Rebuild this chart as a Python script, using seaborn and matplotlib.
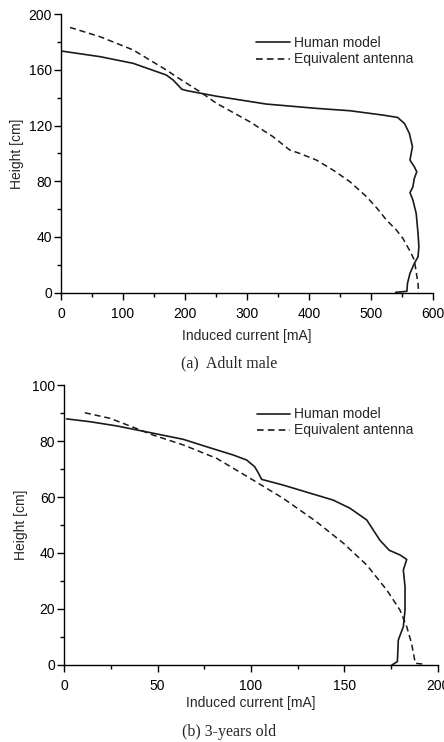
import numpy as np
import pandas as pd
import matplotlib
matplotlib.use("Agg")
import matplotlib.pyplot as plt
from matplotlib.ticker import MultipleLocator
import seaborn as sns

# ---- Data: (a) Adult male ----
adult_human_current = [1, 63, 116.5, 170, 181, 195, 203, 251, 331, 412, 466, 519, 543, 554, 562, 567,
                       565, 563, 570, 574, 570, 567.7, 563, 567.7, 573, 576, 577.4, 576, 570, 563,
                       559, 558, 540]
adult_human_height = [173.4, 169.4, 164.6, 156.2, 152.6, 146, 145, 141, 135.4, 132.3, 130.6, 127.5,
                      125.8, 121.5, 114.4, 104.8, 100, 95.2, 90.4, 86.8, 82, 76, 71.8, 66.5, 57,
                      42.6, 33, 25.8, 21, 13.9, 6.7, 1, 0.3]
adult_ant_current = [14.5, 63, 116.5, 170, 186, 224, 251, 304.5, 342, 369, 385, 412, 439, 466, 493,
                     510, 525, 541, 551.6, 565, 570, 573, 576, 577]
adult_ant_height = [190.4, 183.7, 174.2, 159.8, 155, 144.3, 135.9, 122.7, 112, 102.4, 100, 95.2, 88,
                    79.7, 68.9, 60.5, 52.2, 45, 39, 28.2, 23.4, 15, 6.7, 0]

# ---- Data: (b) 3-years old ----
child_human_current = [1.25, 13.75, 28, 46, 63.75, 76, 90.5, 97.7, 102, 104, 105.7, 117, 135, 144, 153,
                       162, 169, 174, 179.8, 183.4, 181.6, 182.5, 182.5, 181.6, 178.9, 178.6, 178.4, 175.5]
child_human_height = [87.9, 86.9, 85.4, 83, 80.6, 78, 75, 73.2, 70.8, 68.5, 66.3, 64.3, 60.7, 58.9, 56,
                      51.8, 44.6, 41, 39.3, 37.7, 33.9, 28, 19.6, 13.7, 8.9, 4.2, 1.2, 0]
child_ant_current = [11, 24.5, 37, 47.7, 63.75, 81.6, 99.5, 117.3, 135, 149.5, 162, 172.7, 179.8, 183.4,
                     186, 188, 192.5]
child_ant_height = [90.1, 88.1, 84.9, 82.1, 78.6, 73.8, 66.7, 59.5, 51.2, 43.5, 35.7, 26.8, 19.6, 13.7,
                    7.7, 0.6, 0.3]

series_names = ["Human model", "Equivalent antenna"]
captions = ["(a)  Adult male", "(b) 3-years old"]
x_label = "Induced current [mA]"
y_label = "Height [cm]"

sns.set_style("white")
plt.rcParams["font.family"] = ["Liberation Sans", "DejaVu Sans"]

fig = plt.figure(figsize=(4.44, 7.42), dpi=100)
ax1 = fig.add_axes([0.1374, 0.6055, 0.8376, 0.3756])
ax2 = fig.add_axes([0.1448, 0.1038, 0.8410, 0.3773])

line_color = "#1a1a1a"


def draw(ax, hc, hh, ac, ah, xmax, ymax, xmaj, xmin, ymaj, ymin, legend_anchor, xlabelpad):
    df_h = pd.DataFrame({"x": hc, "y": hh})
    df_a = pd.DataFrame({"x": ac, "y": ah})
    sns.lineplot(data=df_h, x="x", y="y", sort=False, estimator=None, ax=ax,
                 color=line_color, lw=1.2, label=series_names[0])
    sns.lineplot(data=df_a, x="x", y="y", sort=False, estimator=None, ax=ax,
                 color=line_color, lw=1.1, linestyle=(0, (4, 2.5)), label=series_names[1])
    ax.set_xlim(0, xmax)
    ax.set_ylim(0, ymax)
    ax.xaxis.set_major_locator(MultipleLocator(xmaj))
    ax.xaxis.set_minor_locator(MultipleLocator(xmin))
    ax.yaxis.set_major_locator(MultipleLocator(ymaj))
    ax.yaxis.set_minor_locator(MultipleLocator(ymin))
    for s in ["top", "right"]:
        ax.spines[s].set_visible(False)
    for s in ["left", "bottom"]:
        ax.spines[s].set_color("black")
        ax.spines[s].set_linewidth(1.0)
    ax.tick_params(which="major", direction="out", length=5, width=1, labelsize=10,
                   colors="black", left=True, bottom=True)
    ax.tick_params(axis="x", which="major", pad=5)
    ax.tick_params(axis="y", which="major", pad=1.5)
    ax.tick_params(which="minor", direction="out", length=3, width=1, left=True, bottom=True,
                   colors="black")
    ax.set_xlabel(x_label, fontsize=10, labelpad=xlabelpad)
    ax.set_ylabel(y_label, fontsize=10, labelpad=3)
    ax.grid(False)
    leg = ax.legend(loc="upper left", bbox_to_anchor=legend_anchor, frameon=False,
                    fontsize=10, handlelength=2.4, handletextpad=0.3, labelspacing=0.15,
                    borderaxespad=0)
    for h in leg.get_lines():
        h.set_linewidth(1.2)


draw(ax1, adult_human_current, adult_human_height, adult_ant_current, adult_ant_height,
     600, 200, 100, 50, 40, 20, (0.51, 0.94), 6)
draw(ax2, child_human_current, child_human_height, child_ant_current, child_ant_height,
     200, 100, 50, 25, 20, 10, (0.5, 0.94), 2)

fig.text(229 / 444, 1 - 363 / 742, captions[0], ha="center", va="center",
         family="Liberation Serif", fontsize=11.5)
fig.text(229 / 444, 1 - 732 / 742, captions[1], ha="center", va="center",
         family="Liberation Serif", fontsize=11.5)

fig.savefig("out.png", dpi=100, facecolor="white")
